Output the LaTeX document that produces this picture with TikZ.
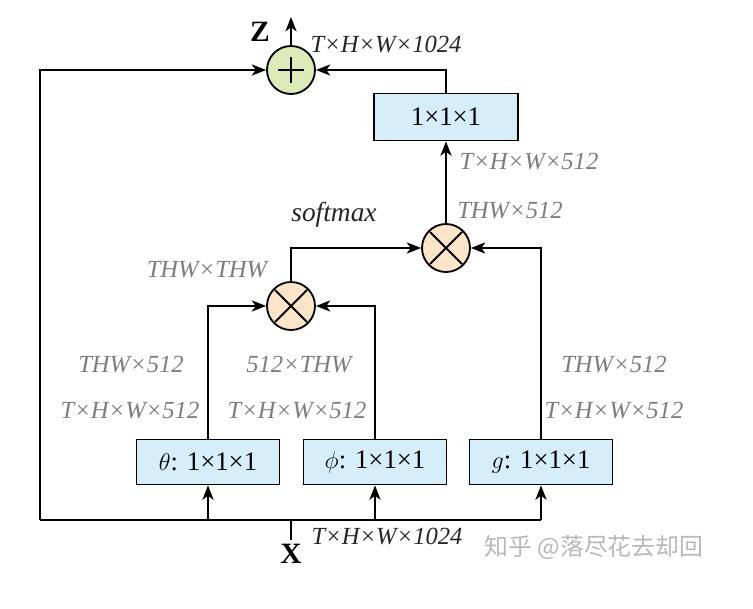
\documentclass[tikz,border=0pt]{standalone}
\usepackage{fontspec}
\setmainfont{Liberation Serif}
\newfontfamily\cjk{Noto Sans CJK SC}
\usepackage{amsmath}
\usepackage{tikz}
\usetikzlibrary{positioning,calc,arrows.meta}
\definecolor{boxblue}{RGB}{214,238,250}
\definecolor{sumgreen}{RGB}{221,235,184}
\definecolor{mulpeach}{RGB}{252,229,200}
\definecolor{dimgray}{RGB}{125,125,125}
\tikzstyle{conv} = [rectangle, draw=black, line width=1.3pt, fill=boxblue, minimum width=3.575cm, minimum height=1.125cm, font=\fontsize{19}{22}\selectfont]
\tikzstyle{op} = [circle, draw=black, line width=1.3pt, minimum size=1.2cm, inner sep=0pt]
\tikzstyle{dims} = [font=\fontsize{17.5}{20}\selectfont\itshape, text=dimgray, inner sep=0pt]
\tikzstyle{dimsdark} = [font=\fontsize{17.5}{20}\selectfont\itshape, text=black!85, inner sep=0pt]
\tikzstyle{arrow} = [line width=1.3pt,-{Stealth[length=3.6mm,width=2.8mm,inset=1mm]}]
\tikzstyle{wire} = [line width=1.3pt]

\begin{document}
\begin{tikzpicture}
        \useasboundingbox (0,0) rectangle (18.825,-15.225);
        \node[op, fill=sumgreen] (plus) at (7.275,-1.75) {};
        \draw[wire] ($(plus)+(-0.32,0)$) -- ($(plus)+(0.32,0)$) ($(plus)+(0,-0.32)$) -- ($(plus)+(0,0.32)$);
        \node[op, fill=mulpeach] (mul2) at (11.15,-6.2) {};
        \node[op, fill=mulpeach] (mul1) at (7.275,-7.65) {};
        \foreach \m in {mul1,mul2}
            \draw[wire] ($(\m)+(-0.4,-0.4)$) -- ($(\m)+(0.4,0.4)$) ($(\m)+(-0.4,0.4)$) -- ($(\m)+(0.4,-0.4)$);
        \node[conv, minimum width=3.6cm, minimum height=1.175cm] (out) at (11.15,-2.925) {1×1×1};
        \node[conv] (theta) at (5.2,-11.55) {$\theta$: 1×1×1};
        \node[conv] (phi) at (9.375,-11.55) {$\phi$: 1×1×1};
        \node[conv] (g) at (13.525,-11.55) {$g$: 1×1×1};
        \coordinate (xbot) at (7.275,-13.5);
        \coordinate (split) at (7.275,-13);
        \coordinate (lb) at (1,-13);
        \coordinate (lt) at (1,-1.75);
        \coordinate (rb) at (13.525,-13);
        \coordinate (ztop) at (7.275,-0.425);
        % input and residual path
        \draw[wire] (xbot) -- (split);
        \draw[wire] (lb) -- (rb);
        \draw[arrow] (lb) -- (lt) -- (plus.west);
        \draw[arrow] (theta.south |- split) -- (theta.south);
        \draw[arrow] (phi.south |- split) -- (phi.south);
        \draw[arrow] (rb) -- (g.south);
        % attention
        \draw[arrow] (theta.north) |- (mul1.west);
        \draw[arrow] (phi.north) |- (mul1.east);
        \draw[arrow] (mul1.north) |- (mul2.west);
        \draw[arrow] (g.north) |- (mul2.east);
        \draw[arrow] (mul2.north) -- (out.south);
        \draw[arrow] (out.north) |- (plus.east);
        \draw[arrow] (plus.north) -- (ztop);
        % labels
        \node[font=\fontsize{21}{24}\selectfont\bfseries] (zlab) at (6.5,-0.8) {Z};
        \node[font=\fontsize{21}{24}\selectfont\bfseries] (xlab) at (7.275,-13.85) {X};
        \node[dimsdark] (d1) at (9.65,-1.125) {T×H×W×1024};
        \node[dimsdark] (d2) at (9.675,-13.425) {T×H×W×1024};
        \node[dims] (d3) at (13.225,-4.05) {T×H×W×512};
        \node[dims] (d4) at (12.75,-5.275) {THW×512};
        \node[font=\fontsize{19.5}{22}\selectfont\itshape, text=black!85, inner sep=0pt] (soft) at (8.35,-5.375) {softmax};
        \node[dims] (d5) at (5.175,-6.75) {THW×THW};
        \node[dims] (d6) at (3.275,-9.125) {THW×512};
        \node[dims] (d7) at (3.25,-10.275) {T×H×W×512};
        \node[dims] (d8) at (7.475,-9.125) {512×THW};
        \node[dims] (d9) at (7.425,-10.275) {T×H×W×512};
        \node[dims] (d10) at (15.35,-9.125) {THW×512};
        \node[dims] (d11) at (15.35,-10.275) {T×H×W×512};
        \node[font=\cjk\fontsize{17}{20}\selectfont, text=black!28, inner sep=0pt] (mark) at (14.85,-13.7) {知乎 @落尽花去却回};
        \end{tikzpicture}
\end{document}
